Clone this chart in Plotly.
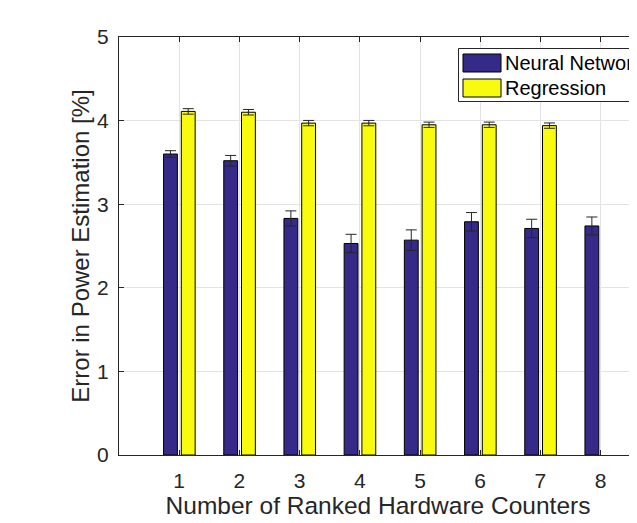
import plotly.graph_objects as go

counters = [1, 2, 3, 4, 5, 6, 7, 8]
nn_mean = [3.60, 3.52, 2.83, 2.53, 2.57, 2.79, 2.71, 2.74]
nn_err = [0.040, 0.063, 0.090, 0.110, 0.123, 0.110, 0.110, 0.107]
reg_counters = [1, 2, 3, 4, 5, 6, 7]
reg_mean = [4.11, 4.10, 3.97, 3.97, 3.95, 3.95, 3.94]
reg_err = [0.033, 0.033, 0.032, 0.032, 0.032, 0.032, 0.032]
series_names = ["Neural Network", "Regression"]
x_ticks = [1, 2, 3, 4, 5, 6, 7, 8]
y_ticks = [0, 1, 2, 3, 4, 5]

BLUE = "#352A87"
YELLOW = "#F9FB0E"
INK = "#262626"
FONT = "Liberation Sans, Arial, Helvetica, sans-serif"

# The page body has an 8px margin, so the figure starts at (8, 8) in the window.
OFF = 8
W, H = 637 - OFF, 523 - OFF
L = 119 - OFF          # left axis at page x=119
T = 37 - OFF           # top of axes at page y=37
B = H - (455 - OFF)    # x axis at page y=455
R = 0
pw, ph = W - L - R, H - T - B


def px(xp):
    return (xp - OFF - L) / pw


def py(yp):
    return (H - B - (yp - OFF)) / ph


fig = go.Figure()
fig.add_trace(go.Bar(
    x=counters, y=nn_mean, name=series_names[0],
    width=0.23, offset=-0.26,
    marker=dict(color=BLUE, line=dict(color="#000000", width=1)),
    error_y=dict(type="data", array=nn_err, color=INK, thickness=1, width=5.5),
    showlegend=False,
))
fig.add_trace(go.Bar(
    x=reg_counters, y=reg_mean, name=series_names[1],
    width=0.23, offset=0.035,
    marker=dict(color=YELLOW, line=dict(color="#000000", width=1)),
    error_y=dict(type="data", array=reg_err, color=INK, thickness=1, width=5.5),
    showlegend=False,
))

shapes = [
    dict(type="rect", xref="paper", yref="paper", x0=px(458.5), x1=px(700), y0=py(101.5), y1=py(48.5),
         line=dict(color=INK, width=1), fillcolor="white", layer="above"),
    dict(type="rect", xref="paper", yref="paper", x0=px(463), x1=px(501), y0=py(72), y1=py(54),
         line=dict(color="#000000", width=1), fillcolor=BLUE, layer="above"),
    dict(type="rect", xref="paper", yref="paper", x0=px(463), x1=px(501), y0=py(97), y1=py(79),
         line=dict(color="#000000", width=1), fillcolor=YELLOW, layer="above"),
]
annotations = [
    dict(xref="paper", yref="paper", x=px(503), y=py(63), text=series_names[0], showarrow=False,
         xanchor="left", yanchor="middle", font=dict(size=20, color="#000000", family=FONT)),
    dict(xref="paper", yref="paper", x=px(503), y=py(88), text=series_names[1], showarrow=False,
         xanchor="left", yanchor="middle", font=dict(size=20, color="#000000", family=FONT)),
]

fig.update_layout(
    width=W, height=H,
    margin=dict(l=L, r=R, t=T, b=B, autoexpand=False),
    paper_bgcolor="white", plot_bgcolor="white",
    font=dict(family=FONT, size=21, color=INK),
    barmode="overlay",
    shapes=shapes, annotations=annotations,
    xaxis=dict(
        range=[0, pw / 60.2], tickvals=x_ticks, ticktext=[str(v) for v in x_ticks],
        showgrid=True, gridcolor="#e3e3e3", gridwidth=1, zeroline=False,
        showline=True, linecolor=INK, linewidth=1, mirror="ticks",
        ticks="inside", ticklen=5, tickcolor=INK, ticklabelstandoff=7,
        tickfont=dict(size=21, color=INK),
        title=dict(text="Number of Ranked Hardware Counters", font=dict(size=24.5, color=INK), standoff=5),
    ),
    yaxis=dict(
        range=[0, 5], tickvals=y_ticks, ticktext=[str(v) for v in y_ticks],
        showgrid=True, gridcolor="#e3e3e3", gridwidth=1, zeroline=False,
        showline=True, linecolor=INK, linewidth=1, mirror=False,
        ticks="inside", ticklen=5, tickcolor=INK, ticklabelstandoff=5,
        tickfont=dict(size=21, color=INK),
        title=dict(text="Error in Power Estimation [%]", font=dict(size=24, color=INK), standoff=0),
    ),
)

fig.write_html("out.html")
